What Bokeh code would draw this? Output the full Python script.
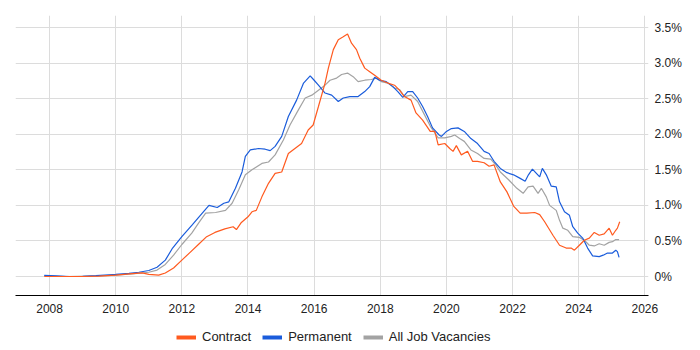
from bokeh.plotting import figure
from bokeh.layouts import column
from bokeh.models import (Legend, LegendItem, FixedTicker, CustomJSTickFormatter, Range1d)
from bokeh.embed import file_html
from bokeh.resources import INLINE

# ---- data (percent of UK IT job ads) ----
contract_year = [2007.84, 2008.5, 2009.0, 2009.5, 2010.0, 2010.5, 2010.8, 2011.0, 2011.3, 2011.5,
                 2011.75, 2012.0, 2012.25, 2012.5, 2012.75, 2013.0, 2013.3, 2013.55, 2013.65, 2013.8,
                 2014.0, 2014.12, 2014.25, 2014.42, 2014.62, 2014.82, 2015.02, 2015.22, 2015.42, 2015.62,
                 2015.82, 2015.97, 2016.13, 2016.33, 2016.43, 2016.58, 2016.73, 2016.88, 2017.01, 2017.13,
                 2017.28, 2017.38, 2017.53, 2017.68, 2017.83, 2018.03, 2018.23, 2018.43, 2018.58, 2018.73,
                 2018.93, 2019.08, 2019.28, 2019.51, 2019.65, 2019.75, 2019.95, 2020.10, 2020.20, 2020.30,
                 2020.45, 2020.64, 2020.79, 2020.94, 2021.14, 2021.29, 2021.44, 2021.63, 2021.83, 2022.03,
                 2022.23, 2022.43, 2022.67, 2022.82, 2022.97, 2023.22, 2023.42, 2023.62, 2023.77, 2023.87,
                 2024.02, 2024.17, 2024.32, 2024.47, 2024.62, 2024.77, 2024.92, 2025.02, 2025.12, 2025.17,
                 2025.24]
contract_pct = [0.00, 0.00, 0.00, 0.005, 0.02, 0.04, 0.05, 0.03, 0.02, 0.05,
                0.12, 0.23, 0.34, 0.45, 0.56, 0.62, 0.67, 0.70, 0.66, 0.76,
                0.84, 0.91, 0.93, 1.12, 1.31, 1.45, 1.47, 1.73, 1.80, 1.87,
                2.06, 2.13, 2.39, 2.72, 2.93, 3.19, 3.33, 3.37, 3.41, 3.28,
                3.19, 3.07, 2.93, 2.88, 2.83, 2.76, 2.72, 2.69, 2.62, 2.53,
                2.48, 2.30, 2.20, 2.04, 2.04, 1.85, 1.87, 1.80, 1.76, 1.84,
                1.71, 1.76, 1.62, 1.62, 1.60, 1.55, 1.57, 1.33, 1.19, 0.99,
                0.89, 0.89, 0.90, 0.87, 0.77, 0.58, 0.44, 0.40, 0.40, 0.37,
                0.44, 0.51, 0.54, 0.62, 0.58, 0.60, 0.68, 0.58, 0.65, 0.68,
                0.77]

permanent_year = [2007.84, 2008.2, 2008.6, 2009.0, 2009.4, 2009.8, 2010.0, 2010.4, 2010.7, 2011.0,
                  2011.25, 2011.5, 2011.72, 2012.0, 2012.32, 2012.52, 2012.82, 2013.07, 2013.27, 2013.42,
                  2013.62, 2013.82, 2013.92, 2014.07, 2014.32, 2014.52, 2014.67, 2014.82, 2015.02, 2015.22,
                  2015.47, 2015.68, 2015.88, 2015.98, 2016.13, 2016.33, 2016.53, 2016.73, 2016.88, 2017.08,
                  2017.33, 2017.53, 2017.68, 2017.83, 2017.98, 2018.18, 2018.38, 2018.53, 2018.68, 2018.83,
                  2018.98, 2019.13, 2019.28, 2019.43, 2019.58, 2019.78, 2019.85, 2020.0, 2020.15, 2020.35,
                  2020.54, 2020.74, 2020.94, 2021.14, 2021.29, 2021.44, 2021.63, 2021.83, 2022.03, 2022.23,
                  2022.38, 2022.48, 2022.60, 2022.72, 2022.82, 2022.90, 2023.02, 2023.17, 2023.32, 2023.42,
                  2023.57, 2023.72, 2023.82, 2023.97, 2024.12, 2024.27, 2024.42, 2024.62, 2024.74, 2024.87,
                  2025.02, 2025.12, 2025.17, 2025.22]
permanent_pct = [0.015, 0.008, 0.0, 0.003, 0.012, 0.025, 0.03, 0.045, 0.06, 0.085,
                 0.13, 0.23, 0.40, 0.56, 0.73, 0.84, 1.00, 0.97, 1.03, 1.05,
                 1.24, 1.47, 1.69, 1.78, 1.80, 1.79, 1.77, 1.83, 1.97, 2.25,
                 2.48, 2.72, 2.82, 2.77, 2.69, 2.58, 2.55, 2.46, 2.51, 2.53,
                 2.53, 2.60, 2.67, 2.80, 2.76, 2.74, 2.67, 2.60, 2.52, 2.60,
                 2.60, 2.51, 2.39, 2.25, 2.09, 1.99, 1.97, 2.04, 2.08, 2.09,
                 2.04, 1.94, 1.87, 1.76, 1.73, 1.62, 1.52, 1.46, 1.43, 1.38,
                 1.34, 1.43, 1.51, 1.45, 1.40, 1.52, 1.43, 1.27, 1.26, 1.05,
                 0.91, 0.86, 0.70, 0.61, 0.54, 0.40, 0.29, 0.28, 0.30, 0.33,
                 0.33, 0.37, 0.35, 0.27]

all_year = [2007.84, 2008.5, 2009.5, 2010.0, 2010.5, 2011.0, 2011.25, 2011.5, 2011.75, 2012.0,
            2012.3, 2012.52, 2012.72, 2013.02, 2013.32, 2013.52, 2013.72, 2013.92, 2014.12, 2014.42,
            2014.62, 2014.82, 2015.07, 2015.27, 2015.52, 2015.73, 2015.93, 2016.13, 2016.33, 2016.48,
            2016.68, 2016.83, 2017.01, 2017.18, 2017.33, 2017.53, 2017.73, 2017.88, 2018.03, 2018.23,
            2018.43, 2018.58, 2018.73, 2018.93, 2019.13, 2019.33, 2019.53, 2019.75, 2019.95, 2020.15,
            2020.25, 2020.40, 2020.54, 2020.74, 2020.94, 2021.14, 2021.34, 2021.49, 2021.63, 2021.88,
            2022.13, 2022.32, 2022.47, 2022.62, 2022.77, 2022.87, 2023.02, 2023.12, 2023.32, 2023.42,
            2023.52, 2023.67, 2023.82, 2024.02, 2024.17, 2024.32, 2024.47, 2024.62, 2024.77, 2024.92,
            2025.02, 2025.12, 2025.22]
all_pct = [0.01, 0.0, 0.008, 0.02, 0.035, 0.06, 0.09, 0.17, 0.30, 0.45,
           0.61, 0.76, 0.89, 0.90, 0.93, 1.03, 1.22, 1.43, 1.50, 1.59,
           1.61, 1.71, 1.92, 2.13, 2.34, 2.51, 2.55, 2.62, 2.69, 2.76,
           2.79, 2.84, 2.86, 2.81, 2.74, 2.76, 2.77, 2.79, 2.74, 2.72,
           2.65, 2.63, 2.53, 2.55, 2.46, 2.28, 2.10, 1.95, 1.95, 1.97,
           1.99, 1.94, 1.90, 1.78, 1.73, 1.66, 1.65, 1.57, 1.47, 1.36,
           1.24, 1.17, 1.26, 1.27, 1.17, 1.24, 1.12, 1.00, 0.93, 0.79,
           0.68, 0.65, 0.56, 0.55, 0.51, 0.44, 0.43, 0.46, 0.44, 0.48,
           0.49, 0.52, 0.52]

x_ticks = [2008, 2010, 2012, 2014, 2016, 2018, 2020, 2022, 2024, 2026]
y_ticks = [0, 0.5, 1.0, 1.5, 2.0, 2.5, 3.0, 3.5]
series_names = ["Contract", "Permanent", "All Job Vacancies"]
series_colors = ["#FF5A1F", "#1A5CDB", "#A3A3A3"]
series_x = [contract_year, permanent_year, all_year]
series_y = [contract_pct, permanent_pct, all_pct]

FONT = "Liberation Sans"

# ---- main chart ----
p = figure(width=684, height=320, output_backend="svg", toolbar_location=None,
           x_range=Range1d(2006.97, 2026.11), y_range=Range1d(-0.267, 3.67),
           y_axis_location="right", min_border_left=15, min_border_top=15,
           min_border_right=32, min_border_bottom=25)
p.outline_line_color = None
p.background_fill_color = "white"
p.border_fill_color = "white"

for i in [2, 1, 0]:
    p.line(series_x[i], series_y[i], line_color=series_colors[i], line_width=1.2)

xa = p.xaxis[0]
xa.ticker = FixedTicker(ticks=x_ticks)
xa.axis_line_color = "#000000"
xa.axis_line_width = 1
xa.major_tick_line_color = None
xa.minor_tick_line_color = None
xa.major_tick_out = 0
xa.major_tick_in = 0
xa.minor_tick_out = 0
xa.major_label_standoff = 8
xa.major_label_text_font = FONT
xa.major_label_text_font_size = "12px"
xa.major_label_text_color = "#222222"

ya = p.yaxis[0]
ya.ticker = FixedTicker(ticks=y_ticks)
ya.formatter = CustomJSTickFormatter(code="return tick == 0 ? '0%' : tick.toFixed(1) + '%';")
ya.axis_line_color = None
ya.major_tick_line_color = None
ya.minor_tick_line_color = None
ya.major_tick_out = 0
ya.major_tick_in = 0
ya.minor_tick_out = 0
ya.major_label_standoff = 6
ya.major_label_text_font = FONT
ya.major_label_text_font_size = "12px"
ya.major_label_text_color = "#222222"

p.xgrid.ticker = FixedTicker(ticks=x_ticks)
p.ygrid.ticker = FixedTicker(ticks=y_ticks)
p.xgrid.grid_line_color = "#dcdcdc"
p.ygrid.grid_line_color = "#dcdcdc"

# ---- legend strip (series drawn off-range, only their swatches show) ----
lg = figure(width=684, height=30, output_backend="svg", toolbar_location=None,
            x_axis_type=None, y_axis_type=None, x_range=Range1d(0, 1), y_range=Range1d(-1, 0),
            min_border=0, min_border_left=0, min_border_right=0, min_border_top=0,
            min_border_bottom=0)
lg.outline_line_color = None
lg.xgrid.visible = False
lg.ygrid.visible = False
items = []
for i in range(3):
    r = lg.line(series_x[i], series_y[i], line_color=series_colors[i], line_width=4)
    items.append(LegendItem(label=series_names[i], renderers=[r]))

legend = Legend(items=items, orientation="horizontal", location=(161, 6),
                label_text_font=FONT, label_text_font_size="13px", label_text_color="#222222",
                glyph_width=20, glyph_height=14, label_height=14, label_standoff=6, spacing=11,
                padding=0, margin=0, border_line_color=None, background_fill_alpha=0)
lg.add_layout(legend, "center")

open("out.html", "w").write(file_html(column(p, lg, spacing=0), INLINE))
